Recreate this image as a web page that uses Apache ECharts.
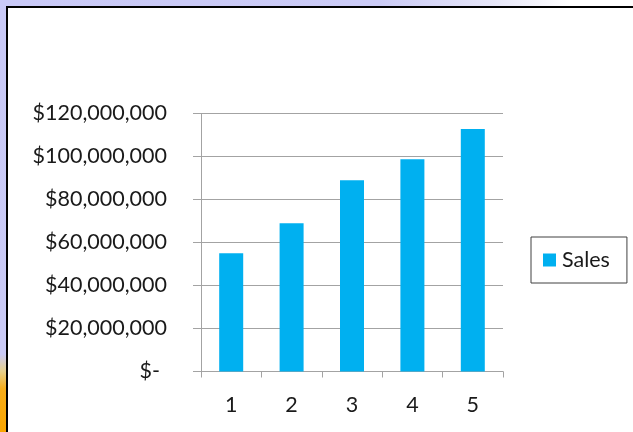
<!DOCTYPE html>
<html>
<head>
<meta charset="utf-8">
<script src="https://cdn.jsdelivr.net/npm/echarts@6/dist/echarts.min.js"></script>
<style>
  body { margin: 0; width: 633px; height: 432px; overflow: hidden; position: relative; background: #fff; }
  .bandTop { position: absolute; left: 0; top: 0; width: 633px; height: 8px;
    background: linear-gradient(to right, #c9c9f7 0%, #cbcbf6 60%, #e6e6f8 78%, #ffffff 90%); }
  .bandLeft { position: absolute; left: 0; top: 0; width: 8px; height: 432px;
    background: linear-gradient(to bottom, #c9c9f7 0%, #cacaf6 82%, #e6cf8a 86%, #f7ad1a 90%, #f9a500 100%); }
  .frame { position: absolute; left: 6px; top: 6px; width: 640px; height: 440px;
    border-top: 2px solid #000; border-left: 2px solid #000; background: #fff; }
  #chart { position: absolute; left: 0; top: 0; width: 633px; height: 432px; }
</style>
</head>
<body>
<div class="bandTop"></div>
<div class="bandLeft"></div>
<div class="frame"></div>
<div id="chart"></div>
<script>
// data
const categories = ["1", "2", "3", "4", "5"];
const salesValues = [55000000, 69000000, 89000000, 98700000, 112800000];
const seriesName = "Sales";

const yMin = 0;
const yMax = 120000000;
const yStep = 20000000;

const FONT = "Lato, 'Open Sans', sans-serif";
const FS = 21.5;
const TEXT = "#1a1a1a";
const GRAY = "#a3a3a3";

const myChart = echarts.init(document.getElementById("chart"), null, { renderer: "canvas" });

const option = {
  animation: false,
  backgroundColor: "transparent",
  textStyle: { fontFamily: FONT },
  grid: {
    left: 201,
    right: 130,
    top: 113.5,
    bottom: 60.5,
  },
  legend: {
    left: 531,
    top: 237,
    orient: "vertical",
    padding: [12, 17, 12, 12],
    borderColor: "#404040",
    borderWidth: 1,
    icon: "rect",
    itemWidth: 13,
    itemHeight: 13,
    itemGap: 5,
    textStyle: { fontFamily: FONT, fontSize: FS, color: TEXT, width: 50, padding: [0, 0, 0, 1] },
    data: [seriesName],
  },
  xAxis: {
    type: "category",
    data: categories,
    axisLine: { lineStyle: { color: GRAY, width: 1 } },
    axisTick: { show: true, alignWithLabel: false, length: 6, lineStyle: { color: GRAY } },
    axisLabel: { fontFamily: FONT, fontSize: FS, color: TEXT, margin: 23 },
  },
  yAxis: {
    type: "value",
    min: yMin,
    max: yMax,
    interval: yStep,
    axisLine: { show: true, lineStyle: { color: GRAY, width: 1 } },
    axisTick: { show: true, length: 8, lineStyle: { color: GRAY } },
    splitLine: { lineStyle: { color: GRAY, width: 1 } },
    axisLabel: {
      fontFamily: FONT,
      fontSize: FS,
      color: TEXT,
      margin: 34,
      formatter: function (v) {
        if (v === 0) return "{z|$-}";
        return "$" + v.toLocaleString("en-US");
      },
      rich: {
        z: { fontFamily: FONT, fontSize: FS, color: TEXT, padding: [0, 7, 0, 0] },
      },
    },
  },
  series: [
    {
      name: seriesName,
      type: "bar",
      barWidth: 24,
      itemStyle: { color: "#00b0f0" },
      data: salesValues,
    },
  ],
};

option && myChart.setOption(option);
</script>
</body>
</html>
